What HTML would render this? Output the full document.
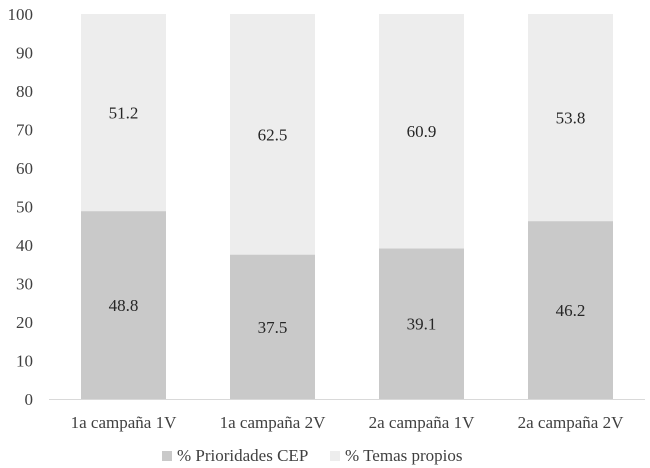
<!DOCTYPE html>
<html><head><meta charset="utf-8"><style>
body{margin:0;background:#fff;}
svg{display:block;font-family:"Liberation Serif",serif;}
</style></head><body>
<svg width="650" height="468">
<g id="chart"></g>
</svg>
<script>
const categories=["1a campaña 1V","1a campaña 2V","2a campaña 1V","2a campaña 2V"];
const prioridades=[48.8,37.5,39.1,46.2];
const temas=[51.2,62.5,60.9,53.8];
const yTicks=[0,10,20,30,40,50,60,70,80,90,100];
const ns="http://www.w3.org/2000/svg";
const g=document.getElementById('chart');
const x0=49,x1=645,y0=399,yTop=14;
const band=(x1-x0)/categories.length, bw=85;
const y=v=>y0-(v/100)*(y0-yTop);
const xc=i=>x0+band*(i+0.5);
function mk(t,a,txt){const e=document.createElementNS(ns,t);for(const k in a)e.setAttribute(k,a[k]);if(txt!=null)e.textContent=txt;g.appendChild(e);return e;}
yTicks.forEach(v=>{
 const t=mk('text',{x:33,y:y(v)+6,'text-anchor':'end','font-size':17,fill:'#404040'},v);
 
 
});
categories.forEach((c,i)=>{
 const b=mk('rect',{x:xc(i)-bw/2,y:y(prioridades[i]),width:bw,height:y0-y(prioridades[i]),fill:'#c9c9c9'});
 
 
 const tp=mk('rect',{x:xc(i)-bw/2,y:y(prioridades[i]+temas[i]),width:bw,height:y(prioridades[i])-y(prioridades[i]+temas[i]),fill:'#ededed'});
 
 
 const l1=mk('text',{x:xc(i),y:y(prioridades[i]/2)+6,'text-anchor':'middle','font-size':17,fill:'#262626'},prioridades[i].toFixed(1));
 
 
 const l2=mk('text',{x:xc(i),y:y(prioridades[i]+temas[i]/2)+6,'text-anchor':'middle','font-size':17,fill:'#262626'},temas[i].toFixed(1));
 
 
 const cl=mk('text',{x:xc(i),y:428,'text-anchor':'middle','font-size':17,fill:'#404040'},c);
 
 
});
const ax=mk('line',{x1:x0,x2:x1,y1:y0+0.5,y2:y0+0.5,stroke:'#d9d9d9','stroke-width':1});


const m1=mk('rect',{x:162,y:451,width:10,height:10,fill:'#c9c9c9'});


const t1=mk('text',{x:177,y:461,'font-size':17,fill:'#404040'},'% Prioridades CEP');


const m2=mk('rect',{x:330,y:451,width:10,height:10,fill:'#ededed'});


const t2=mk('text',{x:345,y:461,'font-size':17,fill:'#404040'},'% Temas propios');


</script>
</body></html>
